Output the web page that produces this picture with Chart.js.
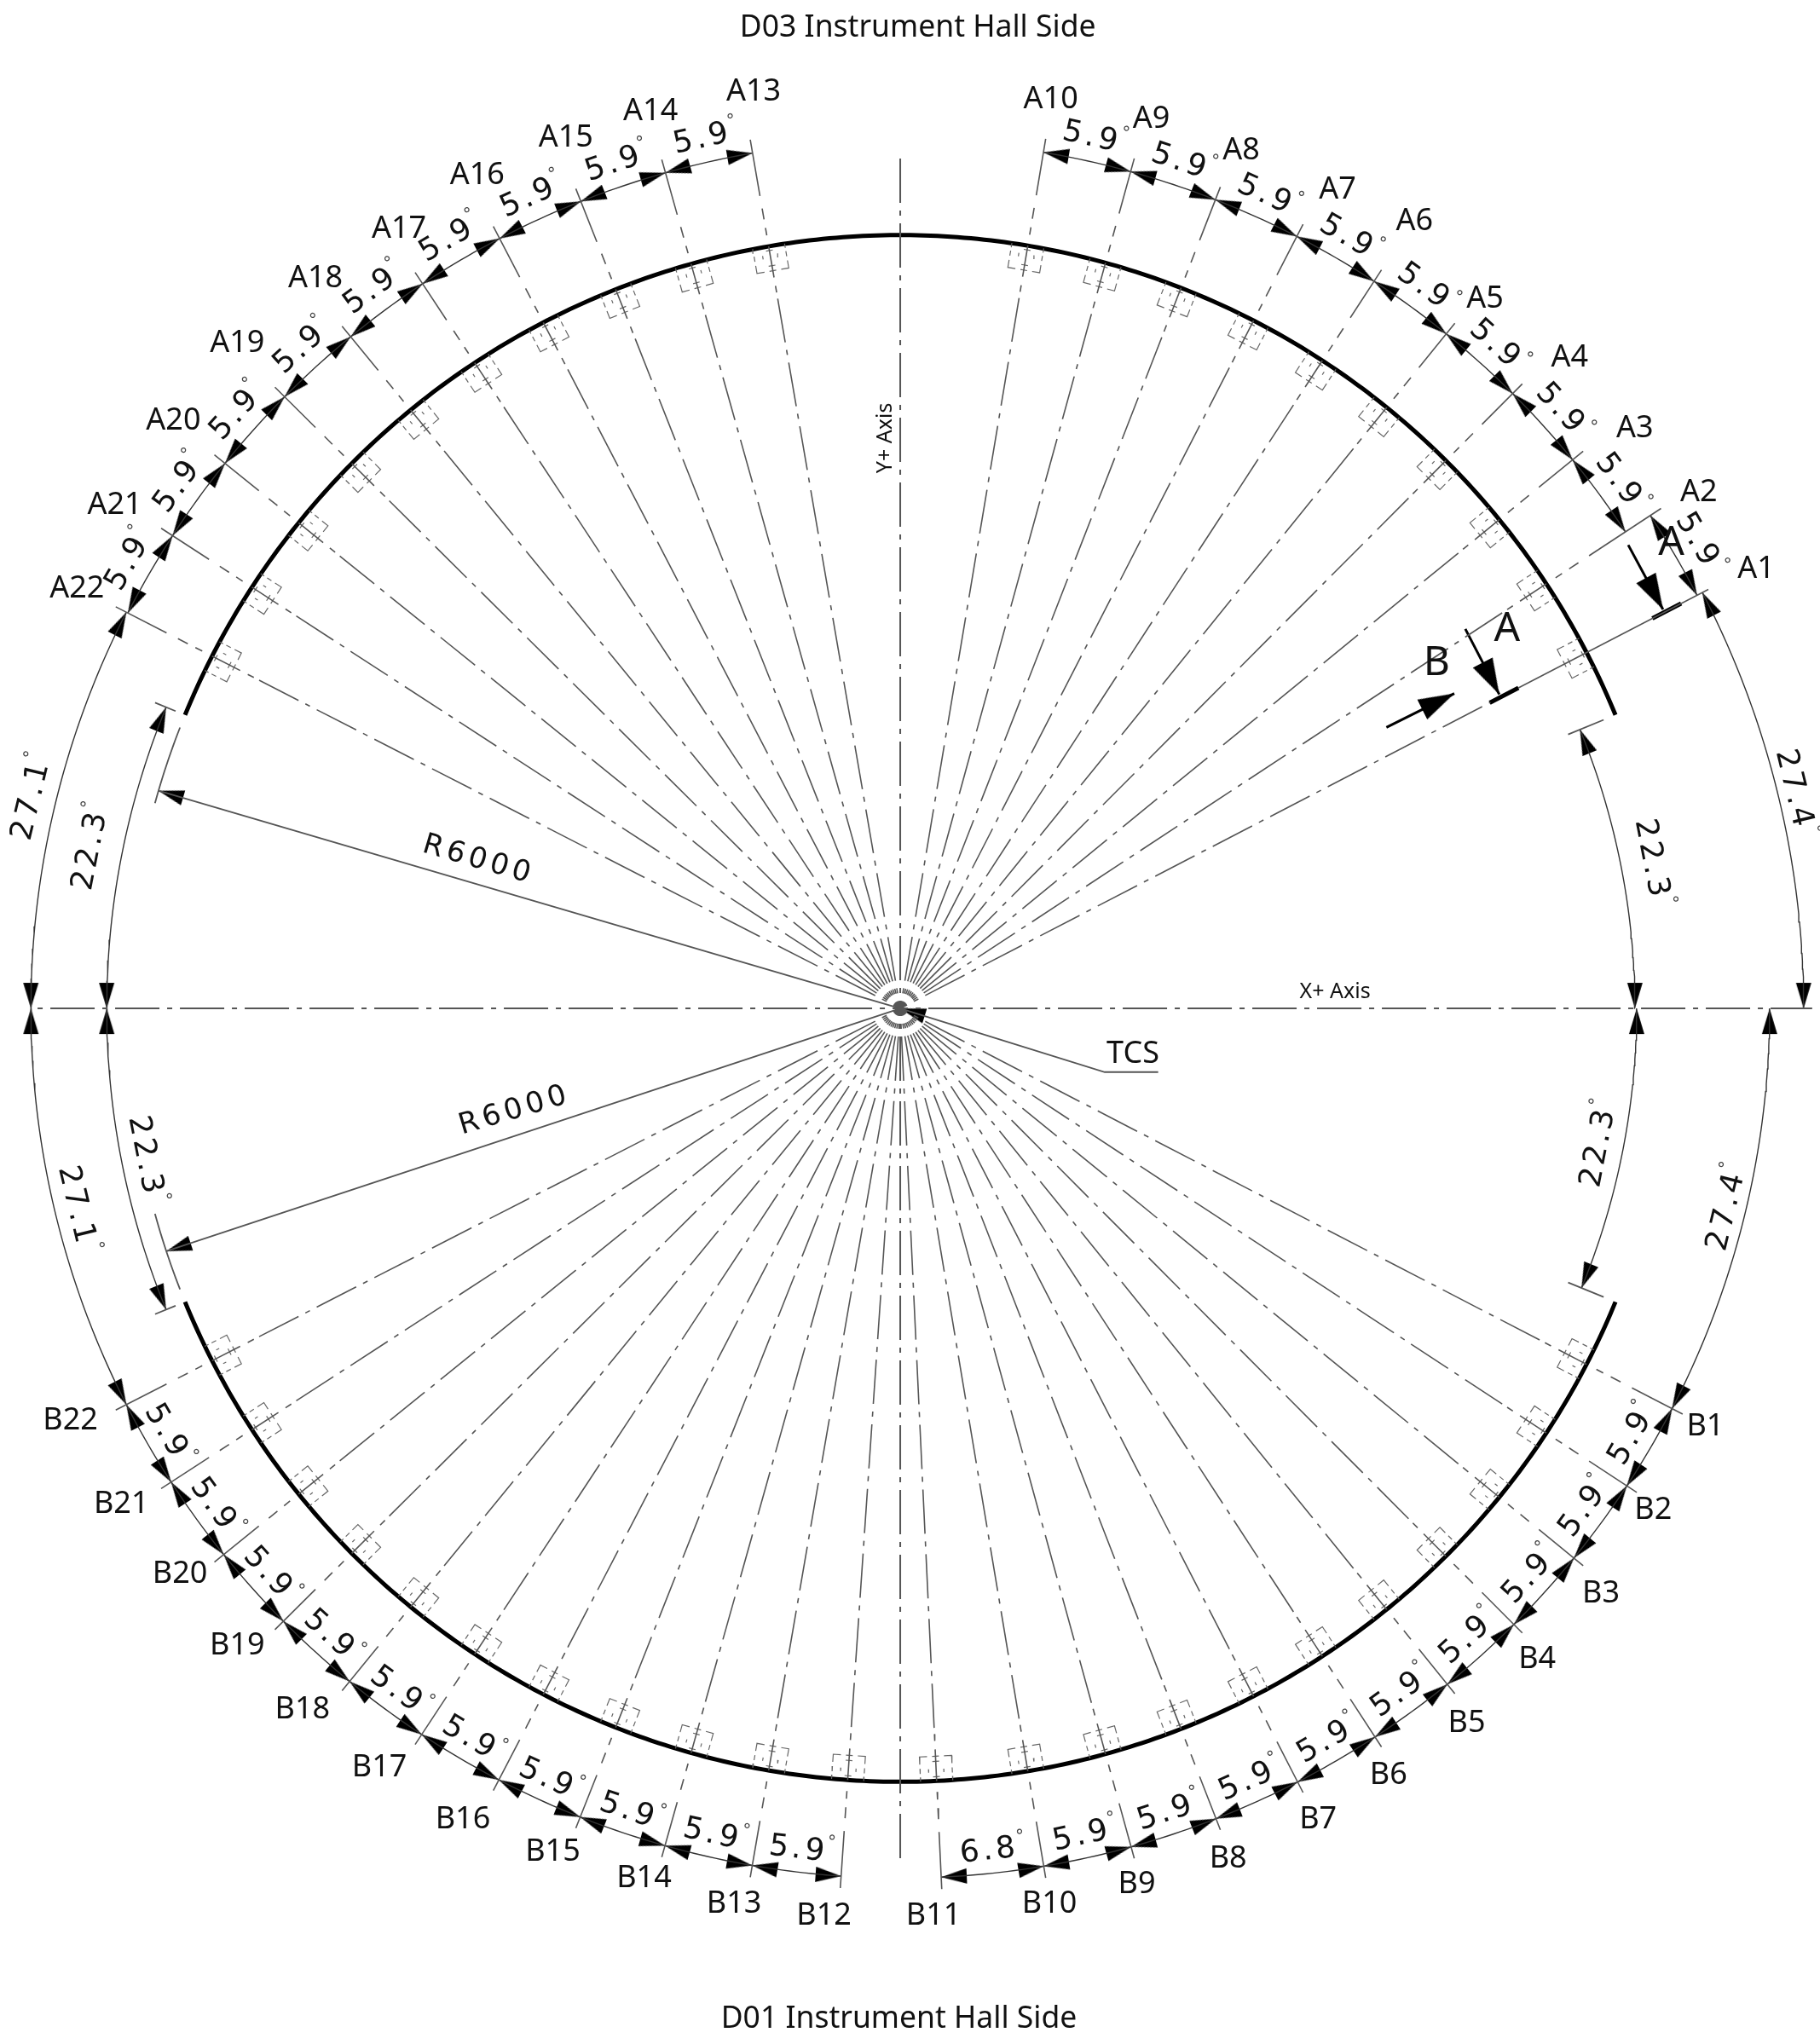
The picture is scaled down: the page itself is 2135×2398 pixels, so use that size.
<!DOCTYPE html>
<html>
<head>
<meta charset="utf-8">
<title>Detector layout</title>
<style>
	html, body { margin: 0; padding: 0; background: #fff; }
	canvas { display: block; }
</style>
<script src="https://cdn.jsdelivr.net/npm/chart.js@4"></script>
</head>
<body>
<canvas id="layoutChart" width="2135" height="2398"></canvas>
<script>
// detector positions, degrees from X+ axis
const labelsA = ["A1","A2","A3","A4","A5","A6","A7","A8","A9","A10","A13","A14","A15","A16","A17","A18","A19","A20","A21","A22"];
const angleA = [27.4,33.3,39.2,45.1,51,56.9,62.8,68.7,74.6,80.5,99.8,105.7,111.6,117.5,123.4,129.3,135.2,141.1,147,152.9];
const gapA = [5.9,5.9,5.9,5.9,5.9,5.9,5.9,5.9,5.9,null,5.9,5.9,5.9,5.9,5.9,5.9,5.9,5.9,5.9];

const labelsB = ["B1","B2","B3","B4","B5","B6","B7","B8","B9","B10","B11","B12","B13","B14","B15","B16","B17","B18","B19","B20","B21","B22"];
const angleB = [-27.4,-33.3,-39.2,-45.1,-51,-56.9,-62.8,-68.7,-74.6,-80.5,-87.3,-93.9,-99.8,-105.7,-111.6,-117.5,-123.4,-129.3,-135.2,-141.1,-147,-152.9];
const gapB = [5.9,5.9,5.9,5.9,5.9,5.9,5.9,5.9,5.9,6.8,null,5.9,5.9,5.9,5.9,5.9,5.9,5.9,5.9,5.9,5.9];

// big end dimensions
const endFrom = [0,0,152.9,157.7,-27.4,-22.3,-180,-180];
const endTo = [27.4,22.3,180,180,0,0,-152.9,-157.7];
const endText = [27.4,22.3,27.1,22.3,27.4,22.3,27.1,22.3];

const arcRadius = 6000;
const arcEnd = 22.3;
const radiusLeader = [163.65,-161.7];

// layout
const W = 2135, H = 2398, CX = 1056, CY = 1183;
const PX_R = 907;
const K = arcRadius / PX_R;
const FIT = 1.0045;
const S = W / 1396;
const endRadius = [1060,862,1020,931,1020,864,1020,931];
const endOffset = [14,32,23,32,26,32,30,32];

const spotA = [[1347,435],[1303,376],[1254,327],[1204,273],[1139,228],[1085,168],[1026,144],[952,114],[883,90],[806,75],[578,69],[499,84],[434,104],[366,133],[306,174],[242,212],[182,262],[133,321],[88,386],[59,450]];
const spotB = [[1308,1093],[1268,1157],[1228,1221],[1179,1271],[1125,1320],[1065,1360],[1011,1394],[942,1424],[872,1444],[805,1459],[716,1468],[632,1468],[563,1459],[494,1439],[424,1419],[355,1394],[291,1354],[232,1310],[182,1261],[138,1206],[93,1152],[54,1088]];

const GAP = { x: NaN, y: NaN };
const RAD = Math.PI / 180;

function polar(r, deg) {
	return { x: r * FIT * K * Math.cos(deg * RAD), y: r * FIT * K * Math.sin(deg * RAD) };
}
function screen(x, y) {
	return { x: (x - CX) * K, y: (CY - y) * K };
}
function local(r, t, deg) {
	// r along the radius, t across it
	const p = polar(r, deg);
	return { x: p.x - t * K * Math.sin(deg * RAD), y: p.y + t * K * Math.cos(deg * RAD) };
}
function radial(pts, r0, r1, deg) {
	pts.push(polar(r0, deg), polar(r1, deg), GAP);
}
function arc(pts, r, a0, a1) {
	const n = Math.max(2, Math.ceil(Math.abs(a1 - a0) * 2));
	for (let i = 0; i <= n; i++) pts.push(polar(r, a0 + (a1 - a0) * i / n));
	pts.push(GAP);
}

const allAngles = angleA.concat(angleB);

// center lines (dash dot), their pieces near the arc, and the solid ends
const dashed = [], solid = [], boxes = [], dimArcs = [], thick = [];
const axisDash = [];
allAngles.forEach((a, i) => {
	const isA1 = i === 0;
	radial(dashed, 0, isA1 ? 780 : 845, a);
	if (isA1) {
		radial(solid, 817, 1068, a);
		radial(thick, 779, 817, a);
		radial(thick, 994, 1032, a);
		return;
	}
	[[852,860],[870,907],[920,929],[939,952]].forEach(s => radial(solid, s[0], s[1], a));
	radial(solid, 967, i === 1 ? 1068 : 1034, a);
});
radial(axisDash, 0, 1004, 90);
radial(axisDash, 0, 1005, -90);
radial(axisDash, 0, 1070, 0);
radial(axisDash, 0, 1016, 180);

// detector boxes hanging inside the arc
allAngles.forEach(a => {
	[-1, 1].forEach(s => {
		boxes.push(local(878, s * 10, a), local(878, s * 19, a), local(887, s * 19, a), GAP);
		boxes.push(local(892, s * 19, a), local(898, s * 19, a), GAP);
		boxes.push(local(902, s * 19, a), local(907, s * 19, a), GAP);
		boxes.push(local(893, s * 9, a), local(897, s * 9, a), GAP);
	});
	[878, 884, 902].forEach(r => boxes.push(local(r, -4, a), local(r, 4, a), GAP));
});

// main arcs
const mainArc = [];
arc(mainArc, PX_R, arcEnd, 180 - arcEnd);
arc(mainArc, PX_R, -arcEnd, -180 + arcEnd);

// dimensions
const dimRows = [];
function addDim(from, to, text, r, offset) {
	dimRows.push({ from, to, text, r, offset });
}
endFrom.forEach((f, i) => addDim(f, endTo[i], endText[i], endRadius[i], endOffset[i]));
gapA.forEach((g, i) => {
	if (g !== null) addDim(angleA[i], angleA[i + 1], g, i === 0 ? 1053 : 1018, i === 0 ? 26 : 23);
});
gapB.forEach((g, i) => {
	if (g !== null) addDim(angleB[i + 1], angleB[i], g, 1020, 30);
});

const arrowPts = [], arrowRot = [];
dimRows.forEach(d => {
	arc(dimArcs, d.r, d.from, d.to);
	arrowPts.push(polar(d.r, d.from));
	arrowRot.push(180 - d.from);
	arrowPts.push(polar(d.r, d.to));
	arrowRot.push(-d.to);
});

// R6000 leaders, the short arc stubs and end ticks
const leaders = [];
radiusLeader.forEach(a => {
	radial(leaders, 0, PX_R, a);
	arrowPts.push(polar(PX_R, a));
	arrowRot.push(90 - a);
});
arc(leaders, PX_R, 180 - 21.3, 180 - 15.4);
arc(leaders, PX_R, -180 + 21.3, -180 + 15.4);
radial(leaders, 847, 892, arcEnd);
radial(leaders, 847, 892, -arcEnd);
radial(leaders, 919, 945, 180 - arcEnd);
radial(leaders, 919, 945, -180 + arcEnd);

// TCS leader
leaders.push(polar(0, 0), screen(1297, 1258), screen(1360, 1258), GAP);
const tcsRot = Math.atan2(1258 - CY, 1297 - CX) / RAD;
arrowPts.push(polar(0, 0));
arrowRot.push(tcsRot - 90);

// section marks
const sectionLines = [];
const sectionTips = [], sectionRot = [];
[[1914,637,1955,713],[1722,736,1762,813],[1629,852,1709,812]].forEach(s => {
	sectionLines.push(screen(s[0], s[1]), screen(s[2], s[3]), GAP);
	sectionTips.push(screen(s[2], s[3]));
	sectionRot.push(Math.atan2(s[3] - s[1], s[2] - s[0]) / RAD + 90);
});

function arrowImage(length, width) {
	const c = document.createElement("canvas");
	c.width = width + 2;
	c.height = length * 2 + 2;
	const g = c.getContext("2d");
	const mid = c.width / 2, tip = c.height / 2;
	g.fillStyle = "#000";
	g.beginPath();
	g.moveTo(mid, tip);
	g.lineTo(mid + width / 2, tip + length);
	g.lineTo(mid - width / 2, tip + length);
	g.closePath();
	g.fill();
	return c;
}

function lineSet(data, color, width, dash, offset) {
	return {
		data, borderColor: color, borderWidth: width, showLine: true, pointRadius: 0,
		borderDash: dash || [], borderDashOffset: offset || 0, tension: 0, clip: false,
		borderCapStyle: "butt"
	};
}
function arrowSet(data, rot, img) {
	return {
		data, showLine: false, pointStyle: img, pointRadius: 1, pointRotation: rot, clip: false
	};
}

function drawDim(ctx, d) {
	const mid = (d.from + d.to) / 2;
	const up = mid > 0;
	const r = (up ? d.r + d.offset : d.r - d.offset) * FIT;
	const rot = up ? 90 - mid : -(90 + mid);
	const x = CX + r * Math.cos(mid * RAD), y = CY - r * Math.sin(mid * RAD);
	ctx.save();
	ctx.translate(x, y);
	ctx.rotate(rot * RAD);
	ctx.font = "36px 'DejaVu Sans'";
	ctx.letterSpacing = "4px";
	ctx.textAlign = "left";
	ctx.textBaseline = "middle";
	ctx.fillStyle = "#111";
	const txt = d.text.toFixed(1);
	const w = ctx.measureText(txt).width;
	ctx.fillText(txt, -w / 2 - 1, 0);
	ctx.letterSpacing = "0px";
	ctx.font = "20px 'DejaVu Sans'";
	ctx.fillStyle = "#444";
	ctx.fillText("\u00b0", w / 2 - 3, -13);
	ctx.restore();
}

const textPlugin = {
	id: "drawingText",
	afterDatasetsDraw(chart) {
		const ctx = chart.ctx;
		ctx.save();
		ctx.textAlign = "center";
		ctx.textBaseline = "middle";
		ctx.fillStyle = "#111";
		ctx.font = "36px 'Noto Sans'";
		labelsA.forEach((t, i) => ctx.fillText(t, spotA[i][0] * S, spotA[i][1] * S + 2.5));
		labelsB.forEach((t, i) => ctx.fillText(t, spotB[i][0] * S, spotB[i][1] * S + 2.5));
		ctx.fillText("TCS", 869 * S, 807 * S + 2.5);

		ctx.font = "35.5px 'Noto Sans'";
		ctx.fillText("D03 Instrument Hall Side", 704 * S, 20 * S + 2.5);
		ctx.fillText("D01 Instrument Hall Side", 689.5 * S, 1547 * S + 2.5);

		ctx.font = "48px 'Noto Sans'";
		ctx.fillText("A", 1282 * S, 417 * S);
		ctx.fillText("A", 1156 * S, 483 * S);
		ctx.fillText("B", 1102 * S, 509 * S);

		ctx.font = "25px 'Noto Sans'";
		ctx.fillText("X+ Axis", 1024 * S, 761 * S);
		ctx.save();
		ctx.translate(679 * S, 336 * S);
		ctx.rotate(-Math.PI / 2);
		ctx.fillText("Y+ Axis", 0, 0);
		ctx.restore();

		[["R6000", 367, 660, 16.3], ["R6000", 395, 852, -16.5]].forEach(r => {
			ctx.save();
			ctx.translate(r[1] * S, r[2] * S);
			ctx.rotate(r[3] * RAD);
			ctx.font = "34px 'DejaVu Sans'";
			ctx.letterSpacing = "5px";
			ctx.fillText(r[0], 0, 0);
			ctx.restore();
		});
		dimRows.forEach(d => drawDim(ctx, d));
		ctx.restore();
	}
};

const smallArrow = arrowImage(30, 18);
const bigArrow = arrowImage(42, 26);
const LINE = "#555";
const DASH = [52, 9, 6, 9];

new Chart(document.getElementById("layoutChart"), {
	type: "scatter",
	data: {
		datasets: [
			lineSet(dashed, LINE, 1.6, DASH, 43),
			lineSet(axisDash, LINE, 2, DASH, 43),
			lineSet(solid, LINE, 1.6),
			lineSet(boxes, "#666", 1.2),
			lineSet(leaders, LINE, 1.8),
			lineSet(dimArcs, "#333", 1.4),
			lineSet(mainArc, "#000", 5),
			lineSet(thick, "#000", 5),
			lineSet(sectionLines, "#000", 3),
			arrowSet(arrowPts, arrowRot, smallArrow),
			arrowSet(sectionTips, sectionRot, bigArrow)
		]
	},
	options: {
		responsive: false,
		animation: false,
		events: [],
		layout: { padding: 0 },
		plugins: { legend: { display: false }, tooltip: { enabled: false } },
		scales: {
			x: { type: "linear", display: false, min: -CX * K, max: (W - CX) * K },
			y: { type: "linear", display: false, min: (CY - H) * K, max: CY * K }
		}
	},
	plugins: [textPlugin]
});
</script>
</body>
</html>
